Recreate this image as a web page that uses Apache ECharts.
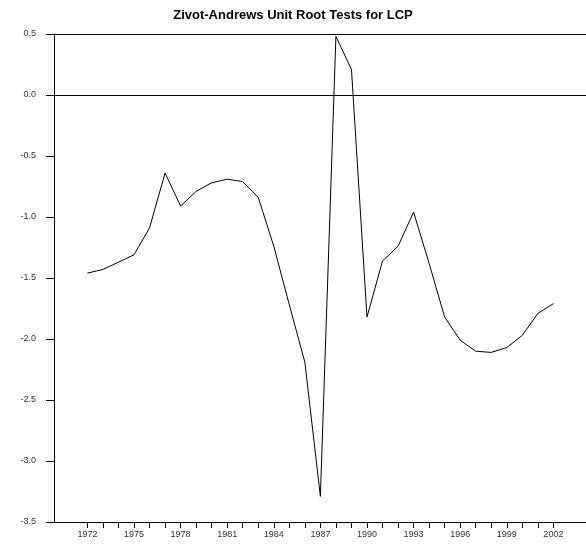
<!DOCTYPE html>
<html>
<head>
<meta charset="utf-8">
<script src="https://cdn.jsdelivr.net/npm/echarts@6/dist/echarts.min.js"></script>
<style>html,body{margin:0;padding:0;background:#fff}#c{width:586px;height:549px}</style>
</head>
<body>
<div id="c"></div>
<script>
const years = [1972,1973,1974,1975,1976,1977,1978,1979,1980,1981,1982,1983,1984,1985,1986,1987,1988,1989,1990,1991,1992,1993,1994,1995,1996,1997,1998,1999,2000,2001,2002];
const values = [-1.46,-1.43,-1.37,-1.31,-1.09,-0.64,-0.91,-0.79,-0.72,-0.69,-0.71,-0.84,-1.24,-1.72,-2.19,-3.29,0.48,0.21,-1.82,-1.36,-1.24,-0.96,-1.38,-1.82,-2.01,-2.10,-2.11,-2.07,-1.97,-1.79,-1.71];
const xLabelYears = [1972,1975,1978,1981,1984,1987,1990,1993,1996,1999,2002];
const refLines = [0, 0.5];
const titleText = 'Zivot-Andrews Unit Root Tests for LCP';

const chart = echarts.init(document.getElementById('c'), null, {renderer:'canvas'});
chart.setOption({
  animation:false,
  backgroundColor:'#fff',
  title:{text:titleText,left:'center',top:4,
    textStyle:{fontFamily:'Liberation Sans, Arial',fontSize:13,fontWeight:'bold',color:'#000'}},
  grid:{left:54,right:0,top:34,bottom:27,containLabel:false},
  xAxis:{type:'value',min:1969.85,max:2004.1,
    axisLine:{show:true,onZero:false,lineStyle:{color:'#000',width:1}},
    axisTick:{show:true,length:6,customValues:years,lineStyle:{color:'#000'}},
    axisLabel:{customValues:xLabelYears,fontSize:9,color:'#333',margin:8,fontFamily:'Liberation Sans, Arial',
      formatter:v=>String(v)},
    splitLine:{show:false}},
  yAxis:{type:'value',min:-3.5,max:0.5,interval:0.5,
    axisLine:{show:true,onZero:false,lineStyle:{color:'#000',width:1}},
    axisTick:{show:true,length:8,lineStyle:{color:'#000'}},
    axisLabel:{fontSize:9,color:'#333',margin:18,fontFamily:'Liberation Sans, Arial',
      formatter:v=>v.toFixed(1)},
    splitLine:{show:false}},
  series:[{type:'line',data:years.map((y,i)=>[y,values[i]]),
    showSymbol:false,symbol:'none',
    lineStyle:{color:'#000',width:1},
    markLine:{silent:true,symbol:'none',label:{show:false},
      lineStyle:{color:'#000',width:1,type:'solid'},
      data:refLines.map(v=>({yAxis:v}))}}]
});
</script>
</body>
</html>
